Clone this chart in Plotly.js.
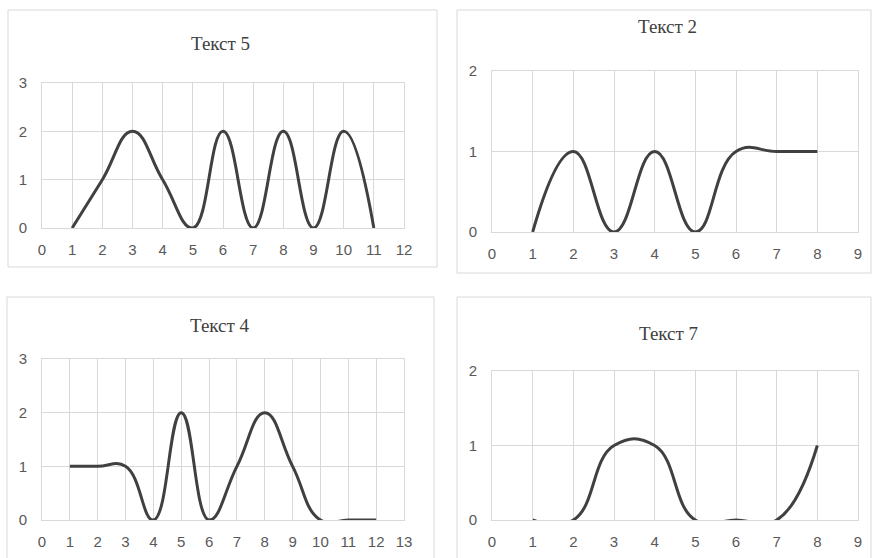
<!DOCTYPE html>
<html>
<head>
<meta charset="utf-8">
<script src="https://cdn.plot.ly/plotly-3.0.1.min.js"></script>
<style>html,body{margin:0;padding:0;background:#fff;}#chart{width:872px;height:558px;}</style>
</head>
<body>
<div id="chart"></div>
<script>
// Chart titles
const titles = ["Текст 5", "Текст 2", "Текст 4", "Текст 7"];

// Series data (x values and y values) for each chart
const x5 = [1, 2, 3, 4, 5, 6, 7, 8, 9, 10, 11];
const y5 = [0, 1, 2, 1, 0, 2, 0, 2, 0, 2, 0];

const x2 = [1, 2, 3, 4, 5, 6, 7, 8];
const y2 = [0, 1, 0, 1, 0, 1, 1, 1];

const x4 = [1, 2, 3, 4, 5, 6, 7, 8, 9, 10, 11, 12];
const y4 = [1, 1, 1, 0, 2, 0, 1, 2, 1, 0, 0, 0];

const x7 = [1, 2, 3, 4, 5, 6, 7, 8];
const y7 = [0, 0, 1, 1, 0, 0, 0, 1];

// Axis maxima
const xMax = [12, 9, 13, 9];
const yMax = [3, 2, 3, 2];

const W = 872, H = 558;
const px = v => v / W;
const py = v => 1 - v / H;

// plot areas in pixels: [left, right, top, bottom]
const plots = [
  [42, 404, 83, 228],
  [492, 858, 71, 232],
  [42, 404, 359, 520],
  [492, 858, 371, 520]
];
// chart boxes in pixels: [left, top, right, bottom]
const boxes = [
  [8, 10, 437, 267],
  [457, 10, 871, 273],
  [7, 297, 434, 562],
  [457, 297, 871, 562]
];
// title centres
const titlePos = [[220, 43], [667, 27], [220, 325], [668, 333]];

const series = [[x5, y5], [x2, y2], [x4, y4], [x7, y7]];

const lineColor = '#404040';
const gridColor = '#d9d9d9';
const tickFont = {family: 'Liberation Sans, Arial, sans-serif', size: 15, color: '#595959'};

const data = series.map((s, i) => ({
  x: s[0], y: s[1],
  type: 'scatter', mode: 'lines',
  line: {shape: 'spline', smoothing: 1.3, color: lineColor, width: 3},
  xaxis: i === 0 ? 'x' : 'x' + (i + 1),
  yaxis: i === 0 ? 'y' : 'y' + (i + 1),
  showlegend: false, hoverinfo: 'skip'
}));

const layout = {
  width: W, height: H,
  margin: {l: 0, r: 0, t: 0, b: 0},
  paper_bgcolor: '#ffffff', plot_bgcolor: '#ffffff',
  shapes: [], annotations: []
};

plots.forEach((p, i) => {
  const xn = i === 0 ? 'xaxis' : 'xaxis' + (i + 1);
  const yn = i === 0 ? 'yaxis' : 'yaxis' + (i + 1);
  const yref = i === 0 ? 'y' : 'y' + (i + 1);
  const xref = i === 0 ? 'x' : 'x' + (i + 1);
  layout[xn] = {
    domain: [px(p[0]), px(p[1])], anchor: yref,
    range: [0, xMax[i]], dtick: 1, tick0: 0,
    showgrid: true, gridcolor: gridColor, gridwidth: 1,
    zeroline: false, showline: true, mirror: true, linecolor: gridColor, linewidth: 1,
    ticks: 'outside', ticklen: 8, tickcolor: 'rgba(0,0,0,0)',
    tickfont: tickFont, fixedrange: true
  };
  layout[yn] = {
    domain: [py(p[3]), py(p[2])], anchor: xref,
    range: [0, yMax[i]], dtick: 1, tick0: 0,
    showgrid: true, gridcolor: gridColor, gridwidth: 1,
    zeroline: false, showline: true, mirror: true, linecolor: gridColor, linewidth: 1,
    ticks: 'outside', ticklen: 11, tickcolor: 'rgba(0,0,0,0)',
    tickfont: tickFont, fixedrange: true
  };
  const b = boxes[i];
  layout.shapes.push({
    type: 'rect', xref: 'paper', yref: 'paper',
    x0: px(b[0]), x1: px(b[2]), y0: py(b[3]), y1: py(b[1]),
    line: {color: gridColor, width: 1}, fillcolor: 'rgba(0,0,0,0)', layer: 'below'
  });
  layout.annotations.push({
    text: titles[i], xref: 'paper', yref: 'paper',
    x: px(titlePos[i][0]), y: py(titlePos[i][1]),
    xanchor: 'center', yanchor: 'middle', showarrow: false,
    font: {family: 'Liberation Serif, Times New Roman, serif', size: 19, color: '#404040'}
  });
});

Plotly.newPlot('chart', data, layout, {staticPlot: true, displayModeBar: false});
</script>
</body>
</html>
